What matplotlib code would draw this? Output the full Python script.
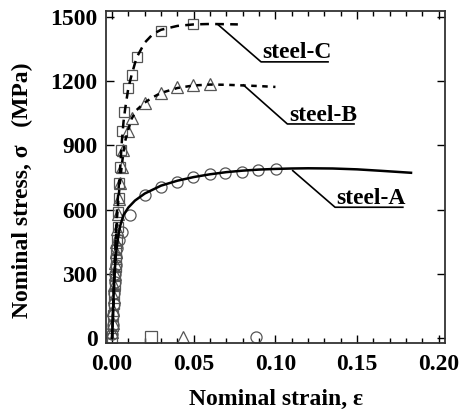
import matplotlib
matplotlib.use('Agg')
import matplotlib.pyplot as plt
from matplotlib.ticker import MultipleLocator

plt.rcParams['font.family'] = ['Liberation Serif', 'DejaVu Serif']
plt.rcParams['font.weight'] = 'bold'
plt.rcParams['font.size'] = 17

# fitted curves (strain, stress MPa)
a_strain = [0, 0.0012, 0.0022, 0.003, 0.004, 0.005, 0.007, 0.010, 0.014, 0.020, 0.030, 0.040,
            0.050, 0.060, 0.070, 0.080, 0.090, 0.100, 0.110, 0.120, 0.135, 0.150, 0.165, 0.183]
a_stress = [0, 250, 380, 430, 485, 525, 575, 610, 642, 675, 712, 735,
            752, 765, 775, 782, 787, 790, 792, 793, 792, 788, 781, 772]

b_strain = [0, 0.001, 0.002, 0.003, 0.004, 0.005, 0.006, 0.007, 0.008, 0.010, 0.012, 0.015,
            0.020, 0.025, 0.030, 0.040, 0.050, 0.060, 0.070, 0.080, 0.090, 0.100]
b_stress = [0, 200, 400, 560, 660, 740, 810, 870, 920, 975, 1025, 1065,
            1100, 1125, 1145, 1168, 1180, 1184, 1183, 1180, 1177, 1173]

c_strain = [0, 0.001, 0.002, 0.003, 0.004, 0.005, 0.006, 0.007, 0.008, 0.010, 0.012, 0.015,
            0.020, 0.025, 0.030, 0.040, 0.050, 0.060, 0.070, 0.077]
c_stress = [0, 200, 420, 600, 700, 800, 920, 1010, 1070, 1170, 1230, 1310,
            1380, 1420, 1440, 1458, 1465, 1467, 1466, 1465]

# measured points
a_pts_x = [0.0001, 0.0003, 0.0006, 0.0009, 0.0012, 0.0015, 0.0018, 0.0021, 0.0025, 0.0030, 0.0040,
           0.0063, 0.011, 0.0202, 0.0298, 0.040, 0.0498, 0.060, 0.0692, 0.0794, 0.0895, 0.1005]
a_pts_y = [20, 60, 110, 160, 210, 260, 300, 340, 380, 420, 460,
           497, 575, 668, 707, 730, 751, 764, 773, 777, 785, 790]

b_pts_x = [0.0002, 0.0004, 0.0007, 0.0010, 0.0013, 0.0016, 0.0019, 0.0022, 0.0026, 0.0030, 0.0036, 0.0042,
           0.0049, 0.0059, 0.0069, 0.0100, 0.0121, 0.0202, 0.0298, 0.040, 0.0498, 0.060]
b_pts_y = [30, 70, 130, 190, 250, 300, 350, 400, 450, 510, 580, 650,
           723, 800, 879, 967, 1027, 1100, 1146, 1171, 1182, 1185]

c_pts_x = [0.0, 0.0003, 0.0006, 0.0009, 0.0012, 0.0015, 0.0018, 0.0021, 0.0024, 0.0027, 0.0030, 0.0034,
           0.0038, 0.0042, 0.0045, 0.0049, 0.0053, 0.0059, 0.0075, 0.0096, 0.0121, 0.0151, 0.0298, 0.0498]
c_pts_y = [0, 55, 110, 160, 205, 250, 290, 330, 370, 410, 460, 520,
           590, 655, 724, 800, 879, 967, 1055, 1167, 1229, 1315, 1435, 1466]

# marks lying on the strain axis
end_x = [0.0237, 0.0433, 0.088]
end_y = [5, 5, 5]

labels = ['steel-A', 'steel-B', 'steel-C']
label_x = [0.1365, 0.1073, 0.0912]
label_y = [611, 1000, 1290]
label_end = [0.178, 0.1481, 0.1322]
leader_x = [0.1106, 0.0804, 0.065]
leader_y = [782, 1182, 1463]

fig = plt.figure(figsize=(4.59, 4.12), dpi=100)
ax = fig.add_axes([0.231, 0.1675, 0.7385, 0.806])

grey = '#555555'
ax.plot(a_pts_x, a_pts_y, 'o', ms=8, mfc='none', mec=grey, mew=0.9)
ax.plot(b_pts_x, b_pts_y, '^', ms=8.5, mfc='none', mec=grey, mew=0.9)
ax.plot(c_pts_x, c_pts_y, 's', ms=7.5, mfc='none', mec=grey, mew=0.9)
for m, x, y in zip(['s', '^', 'o'], end_x, end_y):
    ax.plot(x, y, m, ms=8, mfc='none', mec=grey, mew=0.9)

ax.plot(a_strain, a_stress, '-', color='black', lw=1.8)
ax.plot(b_strain, b_stress, color='black', lw=1.8, dashes=(2.2, 2.2))
ax.plot(c_strain, c_stress, color='black', lw=1.8, dashes=(3.5, 2.5))

for i in range(3):
    ax.plot([leader_x[i], label_x[i], label_end[i]],
            [leader_y[i], label_y[i], label_y[i]], color='black', lw=1.2)
    ax.text(label_x[i] + 0.001, label_y[i] + 16, labels[i], ha='left', va='baseline',
            fontweight='bold', fontsize=17)

ax.set_xlim(-0.0037, 0.2038)
ax.set_ylim(-23, 1528)
ax.xaxis.set_major_locator(MultipleLocator(0.05))
ax.xaxis.set_minor_locator(MultipleLocator(0.01))
ax.yaxis.set_major_locator(MultipleLocator(300))
ax.set_xticks([0, 0.05, 0.10, 0.15, 0.20])
ax.set_xticklabels(['0.00', '0.05', '0.10', '0.15', '0.20'])
ax.tick_params(which='both', direction='in', top=True, right=True, width=1.0)
ax.tick_params(which='major', length=6, pad=6)
ax.tick_params(which='minor', length=3.5)
ax.tick_params(axis='x', which='major', pad=8)
for s in ax.spines.values():
    s.set_linewidth(1.3)
    s.set_color('#333333')

ax.set_xlabel('Nominal strain, ε', fontweight='bold', labelpad=10)
ax.set_ylabel('Nominal stress, σ   (MPa)', fontweight='bold')
ax.yaxis.set_label_coords(-0.215, 0.46)

fig.savefig('out.png', dpi=100)
